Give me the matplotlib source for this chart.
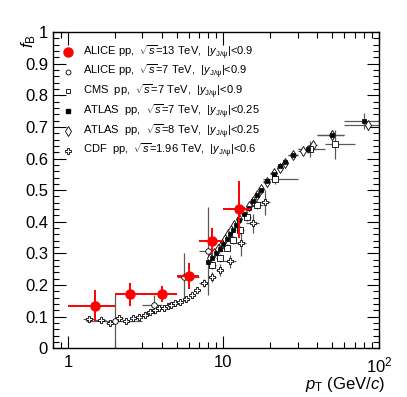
"""Non-prompt J/psi fraction f_B vs pT, world data comparison."""
import numpy as np
import matplotlib
matplotlib.use("Agg")
import matplotlib.pyplot as plt
from matplotlib.lines import Line2D
from matplotlib.ticker import MultipleLocator, LogLocator, NullFormatter

plt.rcParams["font.family"] = ["Liberation Sans", "DejaVu Sans"]
plt.rcParams["mathtext.fontset"] = "custom"
plt.rcParams["mathtext.rm"] = "Liberation Sans"
plt.rcParams["mathtext.it"] = "Liberation Sans:italic"
plt.rcParams["mathtext.bf"] = "Liberation Sans:bold"

# ALICE pp 13 TeV
alice13_pt = [1.5, 2.5, 4.0, 6.0, 8.5, 12.5]
alice13_lo = [1.0, 2.0, 3.0, 5.0, 7.0, 10.0]
alice13_hi = [2.0, 3.0, 5.0, 7.0, 10.0, 15.0]
alice13_f = [0.135, 0.170, 0.172, 0.228, 0.339, 0.440]
alice13_err = [0.050, 0.036, 0.025, 0.040, 0.040, 0.090]

# ALICE pp 7 TeV
alice7_pt = [2.0, 3.6, 5.6, 8.0]
alice7_lo = [1.3, 3.0, 5.0, 7.0]
alice7_hi = [3.0, 4.0, 7.0, 10.0]
alice7_f = [0.085, 0.138, 0.225, 0.307]
alice7_err = [0.085, 0.030, 0.075, 0.140]

# CMS pp 7 TeV
cms_pt = [8.5, 9.5, 10.5, 11.5, 12.7, 14.2, 16.4, 21.5, 36.0, 52.0]
cms_lo = [8.0, 9.0, 10.0, 11.0, 12.0, 13.5, 15.0, 18.0, 30.0, 45.0]
cms_hi = [9.0, 10.0, 11.0, 12.0, 13.5, 15.0, 18.0, 30.0, 45.0, 70.0]
cms_f = [0.262, 0.285, 0.318, 0.342, 0.373, 0.415, 0.453, 0.535, 0.630, 0.645]
cms_err = [0.012, 0.012, 0.012, 0.013, 0.013, 0.014, 0.014, 0.015, 0.025, 0.045]

# ATLAS pp 7 TeV
atlas7_pt = [8.0, 8.5, 9.0, 9.5, 10.0, 10.5, 11.0, 11.5, 12.0, 12.5, 13.5, 14.5,
             15.5, 16.5, 17.5, 19.0, 21.0, 23.0, 25.0, 28.0, 35.0, 50.0, 80.0]
atlas7_lo = [7.75, 8.25, 8.75, 9.25, 9.75, 10.25, 10.75, 11.25, 11.75, 12.25, 13.0, 14.0,
             15.0, 16.0, 17.0, 18.0, 20.0, 22.0, 24.0, 26.0, 30.0, 40.0, 60.0]
atlas7_hi = [8.25, 8.75, 9.25, 9.75, 10.25, 10.75, 11.25, 11.75, 12.25, 12.75, 14.0, 15.0,
             16.0, 17.0, 18.0, 20.0, 22.0, 24.0, 26.0, 30.0, 40.0, 60.0, 100.0]
atlas7_f = [0.272, 0.285, 0.300, 0.315, 0.330, 0.345, 0.360, 0.375, 0.390, 0.405, 0.425, 0.445,
            0.465, 0.485, 0.500, 0.530, 0.550, 0.575, 0.590, 0.610, 0.630, 0.675, 0.718]
atlas7_err = [0.006] * 20 + [0.012, 0.015, 0.025]

# ATLAS pp 8 TeV
atlas8_pt = [8.25, 8.75, 9.25, 9.75, 10.25, 10.75, 11.25, 11.75, 12.5, 13.5, 14.5, 15.5,
             16.5, 17.5, 19.0, 21.0, 23.0, 25.0, 28.0, 32.5, 37.5, 50.0, 85.0]
atlas8_lo = [8.0, 8.5, 9.0, 9.5, 10.0, 10.5, 11.0, 11.5, 12.0, 13.0, 14.0, 15.0,
             16.0, 17.0, 18.0, 20.0, 22.0, 24.0, 26.0, 30.0, 35.0, 40.0, 60.0]
atlas8_hi = [8.5, 9.0, 9.5, 10.0, 10.5, 11.0, 11.5, 12.0, 13.0, 14.0, 15.0, 16.0,
             17.0, 18.0, 20.0, 22.0, 24.0, 26.0, 30.0, 35.0, 40.0, 60.0, 110.0]
atlas8_f = [0.285, 0.300, 0.315, 0.330, 0.345, 0.360, 0.375, 0.390, 0.410, 0.430, 0.450, 0.465,
            0.485, 0.505, 0.525, 0.553, 0.570, 0.585, 0.610, 0.624, 0.642, 0.675, 0.705]
atlas8_err = [0.006] * 20 + [0.010, 0.012, 0.015]

# CDF ppbar 1.96 TeV
cdf_lo = [1.25, 1.5, 1.75, 2.0, 2.25, 2.5, 2.75, 3.0, 3.25, 3.5, 3.75, 4.0, 4.25,
          4.5, 4.75, 5.0, 5.5, 6.0, 6.5, 7.0, 8.0, 9.0, 10.0, 12.0, 14.0, 17.0]
cdf_hi = [1.5, 1.75, 2.0, 2.25, 2.5, 2.75, 3.0, 3.25, 3.5, 3.75, 4.0, 4.25, 4.5,
          4.75, 5.0, 5.5, 6.0, 6.5, 7.0, 8.0, 9.0, 10.0, 12.0, 14.0, 17.0, 20.0]
cdf_f = [0.092, 0.089, 0.079, 0.095, 0.086, 0.095, 0.098, 0.106, 0.114, 0.120, 0.126, 0.128, 0.134,
         0.138, 0.142, 0.146, 0.155, 0.168, 0.185, 0.206, 0.225, 0.247, 0.275, 0.332, 0.395, 0.462]
cdf_err = [0.008] * 19 + [0.012, 0.015, 0.018, 0.020, 0.040, 0.030, 0.040]

labels = [
    r"ALICE pp,  $\sqrt{s}$=13 TeV,  $|y_{\rm J/\psi}|$<0.9",
    r"ALICE pp,  $\sqrt{s}$=7 TeV,  $|y_{\rm J/\psi}|$<0.9",
    r"CMS  pp,  $\sqrt{s}$=7 TeV,  $|y_{\rm J/\psi}|$<0.9",
    r"ATLAS  pp,  $\sqrt{s}$=7 TeV,  $|y_{\rm J/\psi}|$<0.25",
    r"ATLAS  pp,  $\sqrt{s}$=8 TeV,  $|y_{\rm J/\psi}|$<0.25",
    r"CDF  pp,  $\sqrt{s}$=1.96 TeV,  $|y_{\rm J/\psi}|$<0.6",
]


def _xerr(pt, lo, hi):
    pt = np.asarray(pt)
    return [pt - np.asarray(lo), np.asarray(hi) - pt]


fig = plt.figure(figsize=(4.07, 3.97), dpi=100)
ax = fig.add_axes([0.130, 0.123, 0.801, 0.796])

grey = "0.35"
series = [
    (cdf_lo, cdf_hi, None, cdf_f, cdf_err,
     dict(marker="P", ms=4.5, mfc="white", mec="black", mew=0.6)),
    (atlas8_lo, atlas8_hi, atlas8_pt, atlas8_f, atlas8_err,
     dict(marker="d", ms=5, mfc="white", mec="black", mew=0.6)),
    (cms_lo, cms_hi, cms_pt, cms_f, cms_err,
     dict(marker="s", ms=4, mfc="white", mec="black", mew=0.6)),
    (atlas7_lo, atlas7_hi, atlas7_pt, atlas7_f, atlas7_err,
     dict(marker="s", ms=3.2, mfc="black", mec="black", mew=0.5)),
    (alice7_lo, alice7_hi, alice7_pt, alice7_f, alice7_err,
     dict(marker="o", ms=4, mfc="white", mec="black", mew=0.6)),
]
for lo, hi, pt, f, err, st in series:
    if pt is None:
        pt = [0.5 * (a + b) for a, b in zip(lo, hi)]
    ax.errorbar(pt, f, xerr=_xerr(pt, lo, hi), yerr=err, ls="none",
                ecolor=grey, elinewidth=0.9, capsize=0, **st)

ax.errorbar(alice13_pt, alice13_f, xerr=_xerr(alice13_pt, alice13_lo, alice13_hi),
            yerr=alice13_err, ls="none", marker="o", ms=6.5, color="red",
            ecolor="red", elinewidth=1.4, capsize=0, zorder=5)

ax.set_xscale("log")
ax.set_xlim(0.8, 100)
ax.set_ylim(0, 1)
ax.set_xticks([1, 10, 100], labels=["1", "10", r"$10^{2}$"])
ax.xaxis.set_minor_locator(LogLocator(base=10, subs=np.arange(2, 10)))
ax.xaxis.set_minor_formatter(NullFormatter())
ax.yaxis.set_major_locator(MultipleLocator(0.1))
ax.yaxis.set_minor_locator(MultipleLocator(0.02))
ax.set_yticks(np.arange(0, 1.01, 0.1),
              labels=["0"] + [f"{v:.1f}" for v in np.arange(0.1, 0.95, 0.1)] + ["1"])

ax.tick_params(which="both", direction="in", top=True, right=True, labelsize=12, width=0.8)
ax.tick_params(which="major", length=9)
ax.tick_params(which="minor", length=4.5)
ax.tick_params(axis="x", pad=5)
for sp in ax.spines.values():
    sp.set_linewidth(1.0)

ax.set_xlabel(r"$p_{\rm T}$ (GeV/$c$)", loc="right", fontsize=12)
ax.xaxis.set_label_coords(1.02, -0.085)
ax.set_ylabel(r"$f_{\rm B}$", loc="top", fontsize=12)
ax.yaxis.set_label_coords(-0.046, 0.995)

handles = [
    Line2D([], [], ls="none", marker="o", ms=6.5, color="red"),
    Line2D([], [], ls="none", marker="o", ms=3.5, mfc="white", mec="black", mew=0.6),
    Line2D([], [], ls="none", marker="s", ms=3.5, mfc="white", mec="black", mew=0.6),
    Line2D([], [], ls="none", marker="s", ms=3.2, mfc="black", mec="black"),
    Line2D([], [], ls="none", marker="d", ms=5, mfc="white", mec="black", mew=0.6),
    Line2D([], [], ls="none", marker="P", ms=4.5, mfc="white", mec="black", mew=0.6),
]
ax.legend(handles, labels, loc="upper left", bbox_to_anchor=(0.015, 0.978), frameon=False,
          fontsize=8, handlelength=1.0, handletextpad=0.9, labelspacing=0.15,
          borderaxespad=0.0)

fig.savefig("out.png", dpi=100)
